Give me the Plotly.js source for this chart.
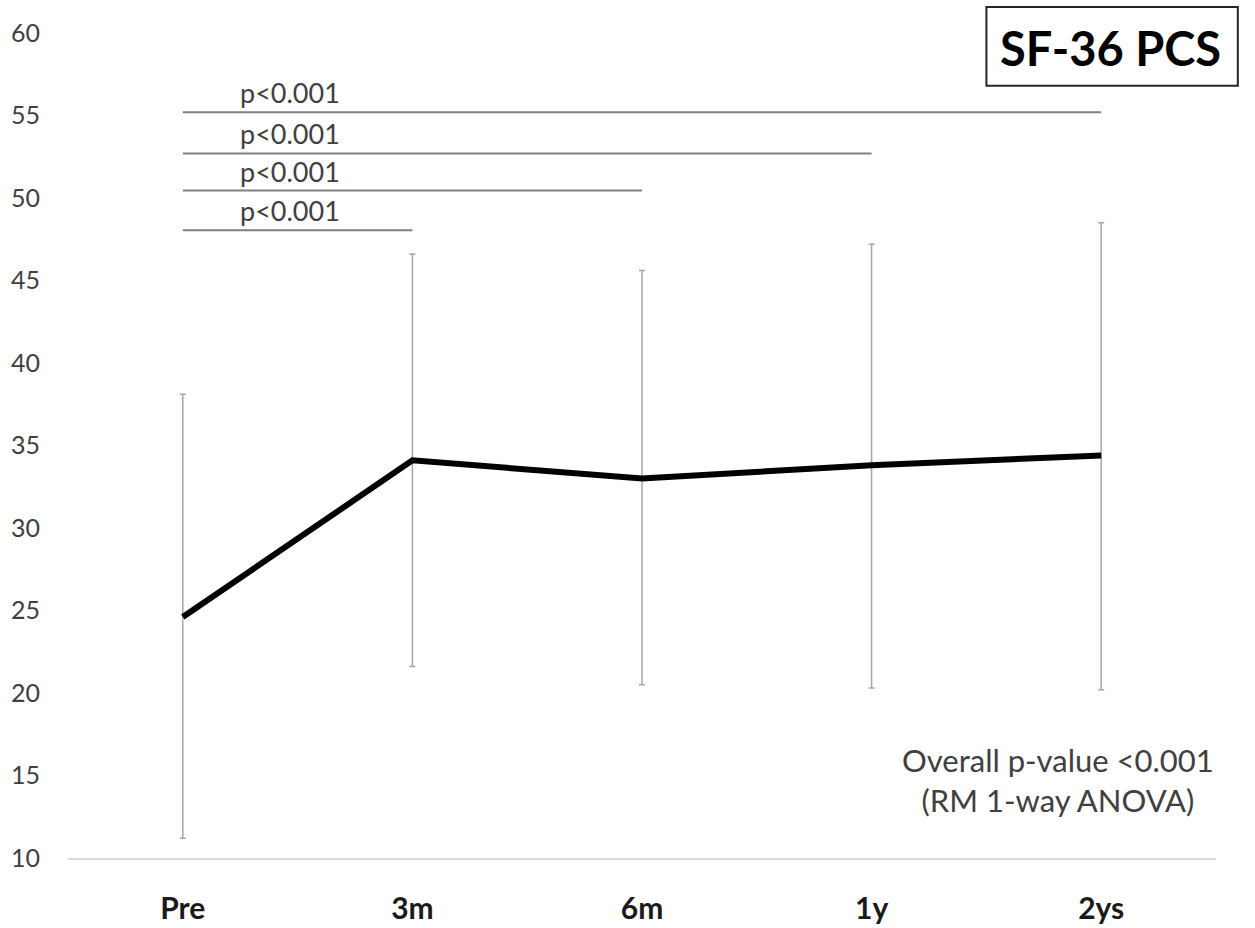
<!DOCTYPE html>
<html>
<head>
<meta charset="utf-8">
<script src="https://cdn.plot.ly/plotly-3.0.1.min.js"></script>
<style>body{margin:0;background:#fff;} #chart{width:1255px;height:928px;}</style>
</head>
<body>
<div id="chart"></div>
<script>
const categories = ["Pre", "3m", "6m", "1y", "2ys"];
const means = [24.6, 34.1, 33.0, 33.8, 34.4];
const upper = [38.1, 46.6, 45.6, 47.2, 48.5];
const lower = [11.2, 21.6, 20.5, 20.3, 20.2];
const yTicks = [10, 15, 20, 25, 30, 35, 40, 45, 50, 55, 60];
const sigTargets = ["2ys", "1y", "6m", "3m"];
const sigLevels = [55.2, 52.7, 50.45, 48.05];
const sigLabels = ["p<0.001", "p<0.001", "p<0.001", "p<0.001"];
const chartTitle = "SF-36 PCS";
const noteLines = ["Overall p-value <0.001", "(RM 1-way ANOVA)"];

const errPlus = upper.map((u, i) => u - means[i]);
const errMinus = lower.map((l, i) => means[i] - l);

const trace = {
  x: categories, y: means, type: 'scatter', mode: 'lines',
  line: {color: '#000000', width: 6},
  error_y: {type: 'data', symmetric: false, array: errPlus, arrayminus: errMinus,
            color: '#a6a6a6', thickness: 1.5, width: 3},
  hoverinfo: 'skip', showlegend: false
};

const shapes = [];
const annotations = [];
sigTargets.forEach((t, i) => {
  shapes.push({type: 'line', xref: 'x', yref: 'y', x0: 0, x1: categories.indexOf(t),
               y0: sigLevels[i], y1: sigLevels[i], line: {color: '#808080', width: 2}});
  annotations.push({xref: 'x', yref: 'y', x: 0.466, y: sigLevels[i], yanchor: 'bottom',
                    yshift: 1, text: sigLabels[i], showarrow: false,
                    font: {family: 'Lato, sans-serif', size: 27, color: '#404040'}});
});
shapes.push({type: 'rect', xref: 'paper', yref: 'paper', x0: 0.8, x1: 1.019, y0: 0.936, y1: 1.0315,
             line: {color: '#262626', width: 2}, fillcolor: 'rgba(0,0,0,0)'});
annotations.push({xref: 'paper', yref: 'paper', x: 0.908, y: 0.982, xanchor: 'center', yanchor: 'middle',
                  text: '<b>' + chartTitle + '</b>', showarrow: false,
                  font: {family: 'Lato, sans-serif', size: 47, color: '#000000'}});
annotations.push({xref: 'x', yref: 'y', x: 3.81, y: 14.75, xanchor: 'center', yanchor: 'middle',
                  text: noteLines.join('<br>'), showarrow: false, align: 'center',
                  font: {family: 'Lato, sans-serif', size: 31, color: '#404040'}});

const layout = {
  width: 1255, height: 928,
  margin: {l: 68, r: 39, t: 33, b: 70},
  paper_bgcolor: '#ffffff', plot_bgcolor: '#ffffff',
  showlegend: false,
  xaxis: {type: 'category', categoryorder: 'array', categoryarray: categories,
          range: [-0.5, 4.5], showgrid: false, zeroline: false,
          showline: true, linecolor: '#d9d9d9', linewidth: 1.5,
          ticks: 'outside', ticklen: 23, tickcolor: 'rgba(0,0,0,0)',
          tickfont: {family: 'Lato, sans-serif', size: 30, color: '#1a1a1a', weight: 'bold'}},
  yaxis: {range: [10, 60], tickvals: yTicks, ticktext: yTicks.map(String),
          showgrid: false, zeroline: false, showline: false,
          ticks: 'outside', ticklen: 22, tickcolor: 'rgba(0,0,0,0)',
          tickfont: {family: 'Lato, sans-serif', size: 25, color: '#404040'}},
  shapes: shapes, annotations: annotations
};

Plotly.newPlot('chart', [trace], layout, {staticPlot: true, displayModeBar: false});
</script>
</body>
</html>
